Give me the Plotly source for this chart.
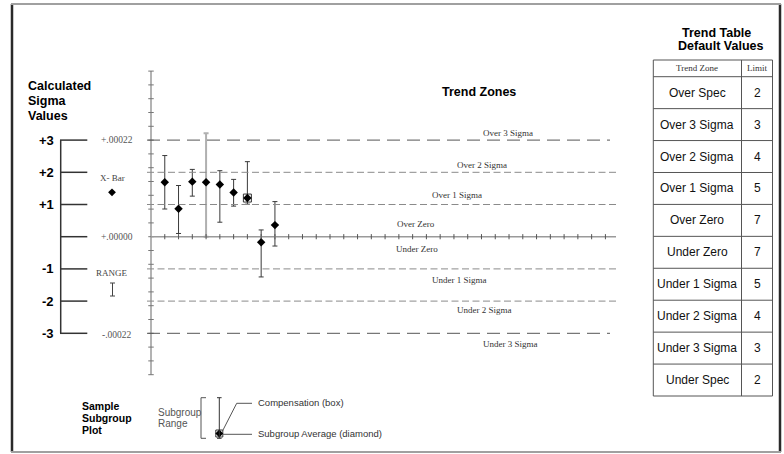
import plotly.graph_objects as go

# ---------------- data ----------------
samples = [1, 2, 3, 4, 5, 6, 7, 8, 9]
xbar = [1.69, 0.87, 1.71, 1.69, 1.62, 1.37, 1.20, -0.17, 0.36]
range_high = [2.52, 1.59, 2.09, 3.21, 2.05, 1.78, 2.33, 0.21, 1.09]
range_low = [0.86, 0.10, 1.26, 0.00, 0.45, 0.95, 1.01, -1.25, -0.29]
compensation = [None, None, None, None, None, None, 1.20, None, None]

sigma_levels = [3, 2, 1, 0, -1, -2, -3]
sigma_labels = ["+3", "+2", "+1", "", "-1", "-2", "-3"]
value_levels = [3, 0, -3]
value_labels = ["+.00022", "+.00000", "-.00022"]

zone_lines = [3, 2, 1, -1, -2, -3]
zone_names = ["Over 3 Sigma", "Over 2 Sigma", "Over 1 Sigma", "Over Zero",
              "Under Zero", "Under 1 Sigma", "Under 2 Sigma", "Under 3 Sigma"]

table_zones = ["Over Spec", "Over 3 Sigma", "Over 2 Sigma", "Over 1 Sigma", "Over Zero",
               "Under Zero", "Under 1 Sigma", "Under 2 Sigma", "Under 3 Sigma", "Under Spec"]
table_limits = [2, 3, 4, 5, 7, 7, 5, 4, 3, 2]
table_header = ["Trend Zone", "Limit"]

x_ticks = list(range(1, 34))
y_ticks = [k * 3 / 7 for k in range(-10, 13)]

# ---------------- geometry ----------------
W, H = 784, 454
X0, DX = 151.0, 13.77      # pixel of sample 0, pixels per sample
Y0, DY = 236.7, 32.2       # pixel of sigma 0, pixels per sigma

def px(x):
    return x / W

def py(y):
    return 1 - y / H

def dx(pxv):
    return (pxv - X0) / DX

def dy(pyv):
    return (Y0 - pyv) / DY

SANS = "Liberation Sans, Arial, sans-serif"
SERIF = "Liberation Serif, Times New Roman, serif"

fig = go.Figure()
shapes = []
ann = []

def line_paper(x0, y0, x1, y1, color="#333", width=1, dash=None):
    d = dict(type="line", xref="paper", yref="paper", x0=px(x0), y0=py(y0),
             x1=px(x1), y1=py(y1), line=dict(color=color, width=width))
    if dash:
        d["line"]["dash"] = dash
    shapes.append(d)

def text_paper(x, y, t, size=10, color="#000", family=SANS, bold=False, xanchor="center"):
    ann.append(dict(xref="paper", yref="paper", x=px(x), y=py(y),
                    text=("<b>%s</b>" % t) if bold else t, showarrow=False,
                    xanchor=xanchor, yanchor="middle",
                    font=dict(size=size, color=color, family=family), borderpad=0))

# ---------------- frame ----------------
line_paper(12, 4, 12, 452, color="#2a2a2a", width=2.5)
line_paper(780, 4, 780, 452, color="#2a2a2a", width=2.5)
line_paper(11, 4, 781, 4, color="#a0a0a0", width=2)
line_paper(11, 452, 781, 452, color="#a0a0a0", width=2)

# ---------------- main plot axes ----------------
shapes.append(dict(type="line", xref="x", yref="y", x0=0, x1=0, y0=y_ticks[0], y1=y_ticks[-1],
                   line=dict(color="#9a9a9a", width=1.5)))
for t in y_ticks:
    shapes.append(dict(type="line", xref="x", yref="y", x0=-0.2, x1=0.2, y0=t, y1=t,
                       line=dict(color="#777", width=1)))
shapes.append(dict(type="line", xref="x", yref="y", x0=0, x1=dx(616), y0=0, y1=0,
                   line=dict(color="#9a9a9a", width=1.5)))
for t in x_ticks:
    shapes.append(dict(type="line", xref="x", yref="y", x0=t, x1=t, y0=-0.08, y1=0.08,
                       line=dict(color="#555", width=1)))
for z in zone_lines:
    if abs(z) == 3:
        shapes.append(dict(type="line", xref="x", yref="y", x0=dx(147), x1=dx(610), y0=z, y1=z,
                           line=dict(color="#555", width=1, dash="13px,7px")))
    else:
        shapes.append(dict(type="line", xref="x", yref="y", x0=dx(147), x1=dx(616), y0=z, y1=z,
                           line=dict(color="#8a8a8a", width=1, dash="7px,3.5px")))

zone_label_px = [(508, 132.7), (482, 165), (457, 194.7), (415.7, 224.3),
                 (417, 249), (459, 280.3), (484, 309.7), (510, 344)]
for name, (lx, ly) in zip(zone_names, zone_label_px):
    ann.append(dict(xref="x", yref="y", x=dx(lx), y=dy(ly), text=name, showarrow=False,
                    xanchor="center", yanchor="middle",
                    font=dict(size=9, color="#333", family=SERIF)))

text_paper(479, 92, "Trend Zones", size=12.5, bold=True)

# ---------------- data traces ----------------
normal = [i for i in range(len(samples)) if i != 3]
special = [3]

def range_trace(idx, color, thick):
    return go.Scatter(
        x=[samples[i] for i in idx], y=[xbar[i] for i in idx], mode="markers",
        marker=dict(size=1, color="rgba(0,0,0,0)"),
        error_y=dict(type="data", symmetric=False,
                     array=[range_high[i] - xbar[i] for i in idx],
                     arrayminus=[xbar[i] - range_low[i] for i in idx],
                     color=color, thickness=thick, width=2.5),
        hoverinfo="skip", showlegend=False)

fig.add_trace(range_trace(normal, "#3a3a3a", 1))
fig.add_trace(range_trace(special, "#b0b0b0", 2))
fig.add_trace(go.Scatter(x=samples, y=compensation, mode="markers",
                         marker=dict(symbol="square-open", size=8, color="#333",
                                     line=dict(width=1, color="#333")),
                         hoverinfo="skip", showlegend=False))
fig.add_trace(go.Scatter(x=samples, y=xbar, mode="markers",
                         marker=dict(symbol="diamond", size=6.5, color="#000"),
                         hoverinfo="skip", showlegend=False))

# ---------------- left sigma scale ----------------
text_paper(26.5, 86.5, "Calculated", size=12.5, bold=True, xanchor="left")
text_paper(26.5, 101, "Sigma", size=12.5, bold=True, xanchor="left")
text_paper(26.5, 115.5, "Values", size=12.5, bold=True, xanchor="left")

shapes.append(dict(type="line", xref="paper", yref="y", x0=px(60.7), x1=px(60.7),
                   y0=min(sigma_levels), y1=max(sigma_levels), line=dict(color="#333", width=1.5)))
for lv, lab in zip(sigma_levels, sigma_labels):
    shapes.append(dict(type="line", xref="paper", yref="y", x0=px(60), x1=px(87.3),
                       y0=lv, y1=lv, line=dict(color="#333", width=1.5)))
    if lab:
        ann.append(dict(xref="paper", yref="y", x=px(55.5), y=lv, text="<b>%s</b>" % lab,
                        showarrow=False, xanchor="right", yanchor="middle",
                        font=dict(size=13, color="#000", family=SANS)))
for lv, lab in zip(value_levels, value_labels):
    off = -0.05 if lv < 0 else 0
    ann.append(dict(xref="paper", yref="y", x=px(117), y=lv + off, text=lab,
                    showarrow=False, xanchor="center", yanchor="middle",
                    font=dict(size=9.5, color="#555", family=SERIF)))

ann.append(dict(xref="x", yref="y", x=dx(112), y=dy(178.3), text="X- Bar", showarrow=False,
                xanchor="center", yanchor="middle", font=dict(size=9, color="#444", family=SERIF)))
ann.append(dict(xref="x", yref="y", x=dx(112), y=dy(273), text="RANGE", showarrow=False,
                xanchor="center", yanchor="middle", font=dict(size=9, color="#444", family=SERIF)))
fig.add_trace(go.Scatter(x=[dx(112)], y=[dy(192.3)], mode="markers",
                         marker=dict(symbol="diamond", size=6, color="#000"),
                         hoverinfo="skip", showlegend=False))
line_paper(112.5, 283, 112.5, 296, color="#444", width=1)
line_paper(110, 283, 115, 283, color="#444", width=1)
line_paper(110, 296, 115, 296, color="#444", width=1)

# ---------------- sample subgroup key ----------------
text_paper(81, 405.5, "Sample", size=10.5, bold=True, xanchor="left")
text_paper(81, 417.5, "Subgroup", size=10.5, bold=True, xanchor="left")
text_paper(81, 429.5, "Plot", size=10.5, bold=True, xanchor="left")
text_paper(156.5, 412.5, "Subgroup", size=10, color="#555", xanchor="left")
text_paper(156.5, 423.5, "Range", size=10, color="#555", xanchor="left")
line_paper(201, 397.7, 201, 438.3, color="#555", width=1)
line_paper(201, 397.7, 206, 397.7, color="#555", width=1)
line_paper(201, 438.3, 206, 438.3, color="#555", width=1)
line_paper(219.3, 397.7, 219.3, 438.3, color="#333", width=1)
line_paper(217, 397.7, 221.6, 397.7, color="#333", width=1)
line_paper(217, 438.3, 221.6, 438.3, color="#333", width=1)
fig.add_trace(go.Scatter(x=[dx(219.3)], y=[dy(433.5)], mode="markers",
                         marker=dict(symbol="square-open", size=7, color="#333",
                                     line=dict(width=1, color="#333")),
                         hoverinfo="skip", showlegend=False))
fig.add_trace(go.Scatter(x=[dx(219.3)], y=[dy(433.5)], mode="markers",
                         marker=dict(symbol="diamond", size=6, color="#000"),
                         hoverinfo="skip", showlegend=False))
line_paper(222.5, 431, 236.7, 403.3, color="#555", width=1)
line_paper(236.7, 403.3, 252, 403.3, color="#555", width=1)
line_paper(223, 434.3, 252, 434.3, color="#555", width=1)
text_paper(256.5, 402.8, "Compensation (box)", size=9.5, color="#333", xanchor="left")
text_paper(256.5, 433.5, "Subgroup Average (diamond)", size=9.5, color="#333", xanchor="left")

# ---------------- trend table ----------------
text_paper(716, 32.5, "Trend Table", size=12.5, bold=True)
text_paper(720, 46, "Default Values", size=12.5, bold=True)

TL, TM, TR = 653.3, 741.5, 772.5
TT, HB, TB = 60.0, 76.7, 396.0
row_h = (TB - HB) / len(table_zones)
bc = "#555"
line_paper(TL, TT, TR, TT, color=bc, width=1)
line_paper(TL, HB, TR, HB, color=bc, width=1)
for i in range(1, len(table_zones) + 1):
    yy = HB + i * row_h
    line_paper(TL, yy, TR, yy, color=bc, width=1)
line_paper(TL, TT, TL, TB, color=bc, width=1)
line_paper(TM, TT, TM, TB, color=bc, width=1)
line_paper(TR, TT, TR, TB, color=bc, width=1)

text_paper((TL + TM) / 2, (TT + HB) / 2, table_header[0], size=9, color="#333", family=SERIF)
text_paper((TM + TR) / 2, (TT + HB) / 2, table_header[1], size=9, color="#333", family=SERIF)
for i, (zn, lim) in enumerate(zip(table_zones, table_limits)):
    yc = HB + (i + 0.5) * row_h
    text_paper((TL + TM) / 2, yc, zn, size=12, color="#111")
    text_paper((TM + TR) / 2, yc, str(lim), size=12, color="#111")

# ---------------- layout ----------------
fig.update_layout(
    width=W, height=H, autosize=False,
    margin=dict(l=0, r=0, t=0, b=0),
    paper_bgcolor="white", plot_bgcolor="white",
    xaxis=dict(range=[dx(0), dx(W)], visible=False, showgrid=False, zeroline=False, fixedrange=True),
    yaxis=dict(range=[dy(H), dy(0)], visible=False, showgrid=False, zeroline=False, fixedrange=True),
    shapes=shapes, annotations=ann, showlegend=False,
)

fig.write_html("out.html", config={"displayModeBar": False},
               post_script="document.body.style.margin='0';document.body.style.overflow='hidden';")
